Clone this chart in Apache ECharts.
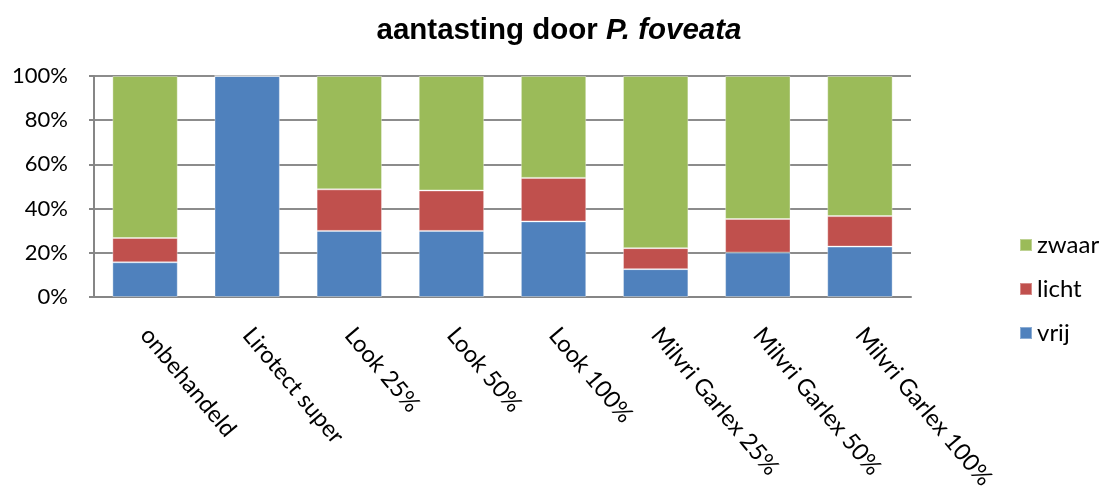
<!DOCTYPE html>
<html>
<head>
<meta charset="utf-8">
<script src="https://cdn.jsdelivr.net/npm/echarts@6/dist/echarts.min.js"></script>
<style>
  html, body { margin: 0; padding: 0; background: #fff; }
  #chart { width: 1101px; height: 494px; }
</style>
</head>
<body>
<div id="chart"></div>
<script>
// Behandelingen en aandeel (%) planten per aantastingsklasse
const categories = ['onbehandeld', 'Lirotect super', 'Look 25%', 'Look 50%', 'Look 100%',
  'Milvri Garlex 25%', 'Milvri Garlex 50%', 'Milvri Garlex 100%'];
const vrij  = [15.7, 100, 29.9, 29.9, 34.2, 12.6, 20.1, 22.8];
const licht = [11.0, 0, 18.8, 18.3, 19.7, 9.5, 15.2, 13.8];
const zwaar = [73.3, 0, 51.3, 51.8, 46.1, 77.9, 64.7, 63.4];
const yTicks = [0, 20, 40, 60, 80, 100];

const labelFont = 'Lato, "Open Sans", sans-serif';
const chart = echarts.init(document.getElementById('chart'), null, { renderer: 'canvas' });

function barSeries(name, data, color) {
  return {
    name: name,
    type: 'bar',
    stack: 'totaal',
    data: data,
    barCategoryGap: '36%',
    itemStyle: { color: color, borderColor: 'rgba(255,255,255,0.35)', borderWidth: 1 },
    emphasis: { disabled: true }
  };
}

chart.setOption({
  animation: false,
  backgroundColor: '#ffffff',
  title: {
    text: '{n|aantasting door }{i|P. foveata}',
    left: 554,
    textAlign: 'center',
    top: 11,
    textStyle: {
      rich: {
        n: { fontFamily: '"Liberation Sans", Arial, sans-serif', fontWeight: 'bold', fontSize: 29.5, color: '#000' },
        i: { fontFamily: '"Liberation Sans", Arial, sans-serif', fontWeight: 'bold', fontStyle: 'italic', fontSize: 29.5, color: '#000' }
      }
    }
  },
  legend: {
    orient: 'vertical',
    left: 1014,
    top: 228,
    itemWidth: 12,
    itemHeight: 12,
    itemGap: 20,
    icon: 'rect',
    data: ['zwaar', 'licht', 'vrij'],
    textStyle: { fontFamily: labelFont, fontSize: 24, color: '#000', lineHeight: 24, padding: [0, 0, 0, 0] },
    selectedMode: false
  },
  grid: { left: 94, right: 190, top: 76, bottom: 197, containLabel: false },
  xAxis: {
    type: 'category',
    data: categories,
    axisLine: { show: true, lineStyle: { color: '#868686', width: 2 } },
    axisTick: { show: false },
    axisLabel: {
      interval: 0,
      rotate: -50,
      margin: 34,
      fontFamily: labelFont,
      fontSize: 23.5,
      color: '#000'
    }
  },
  yAxis: {
    type: 'value',
    min: yTicks[0],
    max: yTicks[yTicks.length - 1],
    interval: yTicks[1] - yTicks[0],
    axisLine: { show: true, lineStyle: { color: '#868686', width: 2 } },
    axisTick: { show: true, length: 5, lineStyle: { color: '#868686', width: 2 } },
    splitLine: { show: true, lineStyle: { color: '#8c8c8c', width: 2 } },
    axisLabel: {
      formatter: '{value}%',
      margin: 26,
      fontFamily: labelFont,
      fontSize: 22,
      color: '#000'
    }
  },
  series: [
    barSeries('vrij', vrij, '#4F81BD'),
    barSeries('licht', licht, '#C0504D'),
    barSeries('zwaar', zwaar, '#9BBB59')
  ]
});
</script>
</body>
</html>
